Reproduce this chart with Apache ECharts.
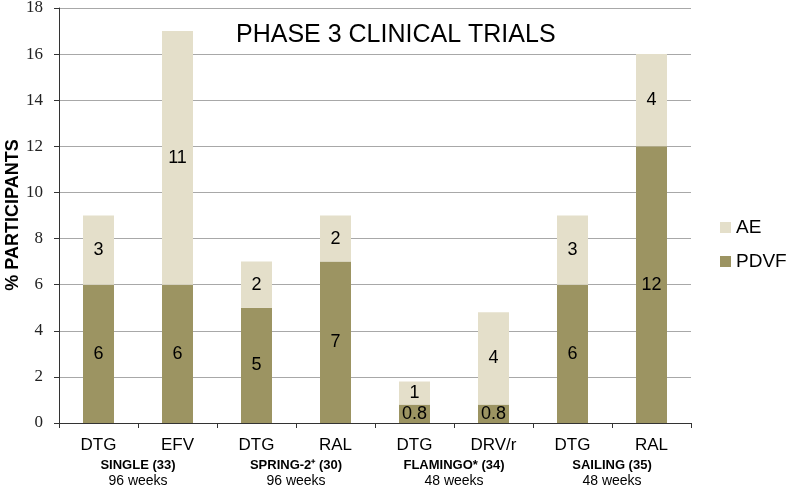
<!DOCTYPE html>
<html>
<head>
<meta charset="utf-8">
<script src="https://cdn.jsdelivr.net/npm/echarts@6/dist/echarts.min.js"></script>
<style>html,body{margin:0;padding:0;background:#fff;}#c{width:790px;height:503px;}</style>
</head>
<body>
<div id="c"></div>
<script>
var categories = ['DTG', 'EFV', 'DTG', 'RAL', 'DTG', 'DRV/r', 'DTG', 'RAL'];
var pdvfValues = [6, 6, 5, 7, 0.8, 0.8, 6, 12];
var aeValues = [3, 11, 2, 2, 1, 4, 3, 4];
var trialNames = ['SINGLE (33)', 'SPRING-2\u207A (30)', 'FLAMINGO* (34)', 'SAILING (35)'];
var trialDurations = ['96 weeks', '96 weeks', '48 weeks', '48 weeks'];
var yMin = 0, yMax = 18, yInterval = 2;
var titleText = 'PHASE 3 CLINICAL TRIALS';
var yAxisTitle = '% PARTICIPANTS';

var groupLabels = trialNames.map(function (n, i) { return n + '|' + trialDurations[i]; });

var chart = echarts.init(document.getElementById('c'));
var sans = 'Liberation Sans, Arial, Helvetica, sans-serif';
chart.setOption({
  animation: false,
  backgroundColor: '#ffffff',
  title: {
    text: titleText,
    left: 236,
    top: 23,
    padding: 0,
    textStyle: { fontFamily: sans, fontSize: 25, fontWeight: 'normal', color: '#000' }
  },
  graphic: [{
    type: 'text',
    x: 13,
    y: 215,
    rotation: Math.PI / 2,
    style: {
      text: yAxisTitle,
      fontFamily: sans,
      fontSize: 18,
      fontWeight: 'bold',
      fill: '#000',
      align: 'center',
      verticalAlign: 'middle'
    }
  }],
  legend: {
    orient: 'vertical',
    left: 720,
    top: 218,
    padding: 0,
    itemWidth: 11,
    itemHeight: 11,
    itemGap: 15,
    icon: 'rect',
    data: ['AE', 'PDVF'],
    textStyle: { fontFamily: sans, fontSize: 19, color: '#000', lineHeight: 19 }
  },
  grid: { left: 59, right: 99, top: 8, bottom: 80, containLabel: false, outerBoundsMode: 'none' },
  xAxis: [{
    type: 'category',
    data: categories,
    axisLine: { lineStyle: { color: '#333', width: 1 } },
    axisTick: { show: true, length: 5, lineStyle: { color: '#333' } },
    axisLabel: { fontFamily: sans, fontSize: 17, color: '#000', margin: 14 }
  }, {
    type: 'category',
    data: groupLabels,
    position: 'bottom',
    axisLine: { show: false },
    axisTick: { show: false },
    splitLine: { show: false },
    axisLabel: {
      margin: 34,
      formatter: function (v) {
        var p = v.split('|');
        return '{b|' + p[0] + '}\n{w|' + p[1] + '}';
      },
      rich: {
        b: { fontFamily: sans, fontSize: 13, fontWeight: 'bold', color: '#000', lineHeight: 16 },
        w: { fontFamily: sans, fontSize: 14, color: '#000', lineHeight: 16 }
      }
    }
  }],
  yAxis: {
    type: 'value',
    min: yMin,
    max: yMax,
    interval: yInterval,
    axisLine: { show: true, lineStyle: { color: '#333' } },
    axisTick: { show: true, length: 5, lineStyle: { color: '#333' } },
    axisLabel: { fontFamily: 'Liberation Serif, Times New Roman, serif', fontSize: 17, color: '#222', margin: 16 },
    splitLine: { lineStyle: { color: '#a8a8a8', width: 1 } }
  },
  series: [{
    name: 'PDVF',
    type: 'bar',
    stack: 'total',
    barWidth: 31,
    data: pdvfValues,
    itemStyle: { color: '#9c9462' },
    label: { show: true, position: 'inside', fontFamily: sans, fontSize: 18, color: '#000' }
  }, {
    name: 'AE',
    type: 'bar',
    stack: 'total',
    barWidth: 31,
    data: aeValues,
    itemStyle: { color: '#e4dfca' },
    label: { show: true, position: 'inside', fontFamily: sans, fontSize: 18, color: '#000' }
  }]
});
</script>
</body>
</html>
